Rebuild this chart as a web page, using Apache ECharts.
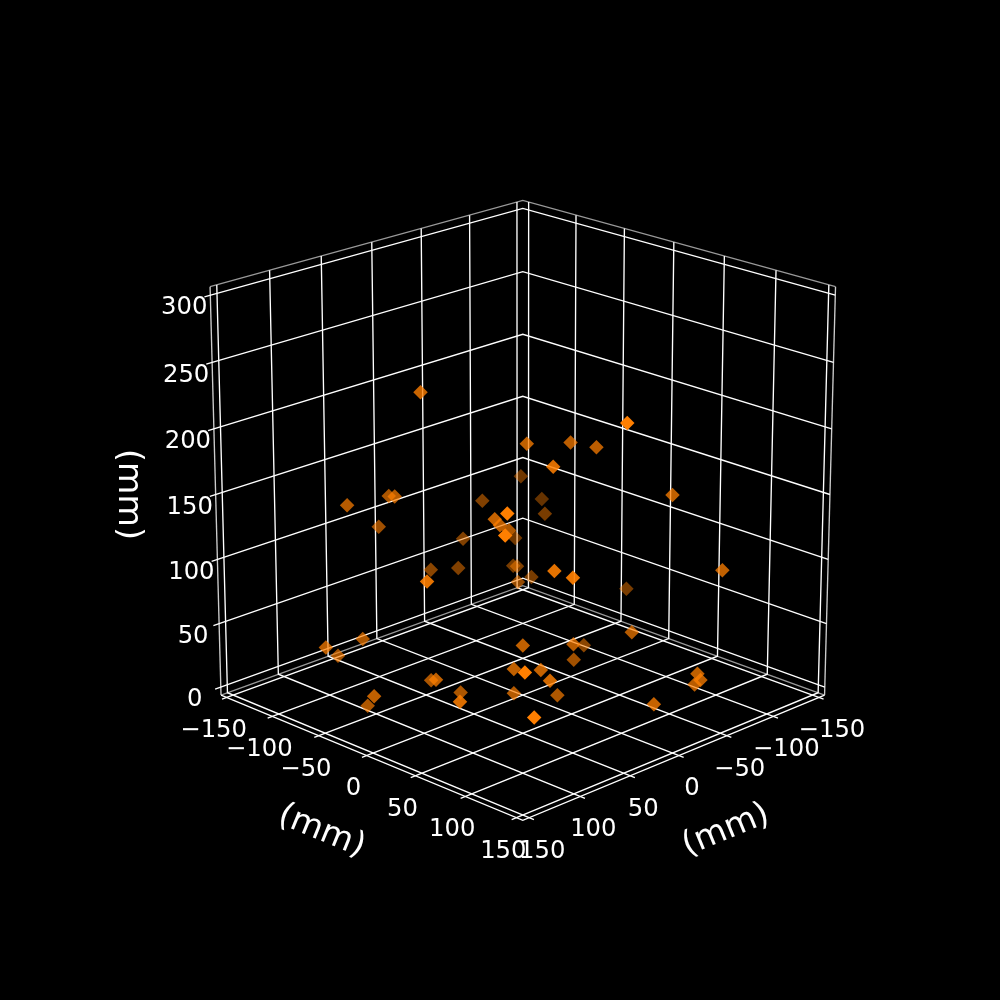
<!DOCTYPE html>
<html><head><meta charset="utf-8"><style>html,body{margin:0;background:#000}#c{width:1000px;height:1000px}</style>
<script src="https://cdn.jsdelivr.net/npm/echarts@6/dist/echarts.min.js"></script></head>
<body><div id="c"></div><script>
// Data values (mm)
const pointA=[-49,-66,-46,-10,-32,-8,18,11,64,55,130,56,46,71,28,49,95,75,95,62,142,137,148,151,139,-29,-62,-44,-67,-74,-64,37,23,39,53,138,70,-64,-59,-35,105,-56,-34,-42,-31,98,118,143,21,-7,-60,95,26,18,9,98,-63,-60];
const pointB=[149,122,116,139,125,85,105,74,126,64,128,56,55,20,-35,-3,-15,57,68,27,131,6,-27,-27,-34,73,74,85,110,73,31,131,19,-9,-21,37,40,-62,-79,-58,-45,-48,-28,-32,-40,67,69,-57,-87,-2,-18,110,54,41,23,115,-1,7];
const pointZ=[60,41,58,31,13,28,42,21,45,49,87,65,25,60,31,35,66,52,53,20,58,29,46,42,33,238,152,159,153,125,83,129,199,197,194,247,199,132,111,111,165,89,78,75,67,136,137,115,59,80,125,189,152,142,131,175,99,79];
const abTicks=[-150,-100,-50,0,50,100,150];
const zTicks=[0,50,100,150,200,250,300];
const abTickLabels=['−150','−100','−50','0','50','100','150'];
const zTickLabels=['0','50','100','150','200','250','300'];
const axisLabel='(mm)';

// View: elev 20°, azim 45°, camera distance 10, unit cube
const cx=522.8,cy=494.5,S=417,el=20*Math.PI/180,ce=Math.cos(el),se=Math.sin(el),dist=10;
const abLo=-156.25,abHi=156.25,zLo=-6.25,zHi=306.25,tickAB=4.5,tickZ=5.5;
function depth(a,b,z){const u=a/150,v=b/150,w=z/150-1,d=.5*(u+v)/Math.SQRT2,h=.5*w;return d*ce+h*se;}
function proj(a,b,z){const u=a/150,v=b/150,w=z/150-1,X=.5*(u-v)/Math.SQRT2,d=.5*(u+v)/Math.SQRT2,h=.5*w,
  Y=h*ce-d*se,D=d*ce+h*se,p=dist/(dist-D);return [cx+S*X*p,cy-S*Y*p];}

const series=[];
function poly(pts,color,w){series.push({type:'line',data:pts.map(q=>proj(...q)),symbol:'none',silent:true,z:2,
  lineStyle:{color:color,width:w,join:'miter',opacity:1},animation:false});}
const edge='#999999',white='#ffffff',LW=1.35;
// pane edges
poly([[abLo,abHi,zLo],[abLo,abLo,zLo],[abHi,abLo,zLo]],edge,LW);
poly([[abLo,abHi,zHi],[abLo,abLo,zHi],[abHi,abLo,zHi]],edge,LW);
poly([[abLo,abHi,zLo],[abLo,abHi,zHi]],'#cccccc',LW);
poly([[abHi,abLo,zLo],[abHi,abLo,zHi]],'#cccccc',LW);
// axis lines
poly([[abLo,abHi,zLo],[abHi,abHi,zLo],[abHi,abLo,zLo]],white,LW);
// grid lines with their tick ends
abTicks.forEach(t=>{
  poly([[t,abHi+tickAB,zLo],[t,abLo,zLo],[t,abLo,zHi]],white,LW);
  poly([[abHi+tickAB,t,zLo],[abLo,t,zLo],[abLo,t,zHi]],white,LW);
});
zTicks.forEach(t=>poly([[abLo,abHi+tickZ,t],[abLo,abLo,t],[abHi,abLo,t]],white,LW));

// points, far ones first; shade follows depth
const depths=pointA.map((a,i)=>depth(a,pointB[i],pointZ[i]));
const dMin=Math.min(...depths),dMax=Math.max(...depths);
const order=pointA.map((_,i)=>i).sort((i,j)=>depths[i]-depths[j]);
series.push({type:'scatter',symbol:'diamond',symbolSize:14.5,z:5,silent:true,animation:false,
  data:order.map(i=>({value:proj(pointA[i],pointB[i],pointZ[i]),
    itemStyle:{color:'#ff7f00',opacity:.4+.6*(depths[i]-dMin)/(dMax-dMin)}}))});

// text
function text(p,dx,dy,str,size,rot){series.push({type:'scatter',symbolSize:0,z:6,silent:true,animation:false,
  itemStyle:{opacity:1},
  data:[{value:[p[0]+dx,p[1]+dy]}],
  label:{show:true,position:'inside',formatter:str,color:'#fff',fontFamily:'DejaVu Sans',fontSize:size,rotate:rot||0,
    align:'center',verticalAlign:'middle'}});}
const TS=24.3,LS=33.3;
abTicks.forEach((t,i)=>{
  text(proj(t,abHi,zLo),-13,33.5,abTickLabels[i],TS);
  text(proj(abHi,t,zLo),13,33.5,abTickLabels[i],TS);
});
zTicks.forEach((t,i)=>text(proj(abLo,abHi,t),-26,13,zTickLabels[i],TS));
text(proj(0,abHi,zLo),-45,76,axisLabel,LS,-22.4);
text(proj(abHi,0,zLo),47,75,axisLabel,LS,22.4);
text(proj(abLo,abHi,150),-88,0,axisLabel,LS,-90);

const chart=echarts.init(document.getElementById('c'),null,{renderer:'canvas'});
chart.setOption({backgroundColor:'#000',animation:false,
  grid:{left:0,right:0,top:0,bottom:0},
  xAxis:{type:'value',min:0,max:1000,show:false},
  yAxis:{type:'value',min:0,max:1000,inverse:true,show:false},
  series:series});
</script></body></html>
